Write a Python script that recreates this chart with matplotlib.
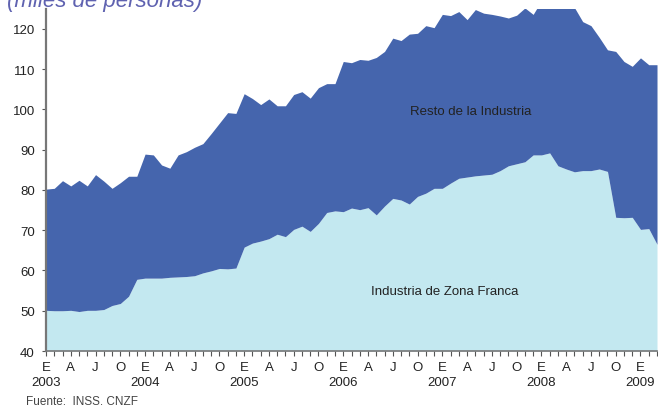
import numpy as np
import matplotlib
matplotlib.use("Agg")
from matplotlib import pyplot as plt

plt.rcParams['font.family'] = ['Liberation Sans', 'DejaVu Sans']

# empleo mensual, enero 2003 - marzo 2009 (miles de personas)
zona_franca = [50.1, 50.0, 50.0, 50.1, 49.8, 50.1, 50.1, 50.3, 51.3, 51.8, 53.6, 57.8,
               58.1, 58.1, 58.1, 58.3, 58.4, 58.5, 58.7, 59.4, 59.9, 60.5, 60.4, 60.6,
               65.8, 66.8, 67.3, 67.9, 69.0, 68.4, 70.2, 71.0, 69.7, 71.7, 74.4, 74.8,
               74.6, 75.5, 75.1, 75.6, 73.8, 76.0, 77.9, 77.5, 76.5, 78.4, 79.2, 80.4,
               80.4, 81.7, 82.9, 83.2, 83.5, 83.7, 83.9, 84.8, 86.0, 86.5, 87.0, 88.7,
               88.7, 89.2, 86.0, 85.2, 84.5, 84.8, 84.8, 85.2, 84.6, 73.2, 73.1, 73.2,
               70.2, 70.4, 66.5]
total_industria = [80.2, 80.4, 82.3, 81.0, 82.4, 81.0, 83.8, 82.2, 80.4, 81.8, 83.4, 83.4,
                   88.9, 88.7, 86.2, 85.4, 88.7, 89.5, 90.6, 91.5, 94.0, 96.6, 99.2, 99.0,
                   103.9, 102.7, 101.2, 102.6, 100.9, 100.9, 103.7, 104.4, 102.8, 105.4, 106.4, 106.4,
                   111.9, 111.6, 112.4, 112.2, 112.9, 114.4, 117.7, 117.1, 118.7, 118.9, 120.8, 120.3,
                   123.6, 123.3, 124.3, 122.3, 124.8, 123.9, 123.6, 123.2, 122.7, 123.4, 125.2, 123.6,
                   127.0, 128.0, 128.0, 127.0, 125.3, 121.8, 120.8, 117.9, 114.8, 114.4, 111.9, 110.7,
                   112.8, 111.1, 111.1]
meses = ["E", "", "", "A", "", "", "J", "", "", "O", "", ""]
anios = ["2003", "2004", "2005", "2006", "2007", "2008", "2009"]

x = np.arange(len(zona_franca))

fig = plt.figure(figsize=(6.58, 4.06), dpi=100)
ax = fig.add_axes([0.0699, 0.133, 0.9286, 0.843])

ax.fill_between(x, 40, zona_franca, color="#C3E8F0", linewidth=0)
ax.fill_between(x, zona_franca, total_industria, color="#4565AD", linewidth=0)

ax.set_xlim(0, len(x) - 1)
ax.set_ylim(40, 125)
ax.set_yticks(range(40, 121, 10))

etiquetas = []
for i in x:
    m = meses[i % 12]
    if i % 12 == 0:
        m = m + "\n" + anios[i // 12]
    etiquetas.append(m)
ax.set_xticks(x)
ax.set_xticklabels(etiquetas, fontsize=9.5, color="#222222", linespacing=1.3)

for s in ["top", "right"]:
    ax.spines[s].set_visible(False)
ax.spines["left"].set_color("#777777")
ax.spines["left"].set_linewidth(1.6)
ax.spines["bottom"].set_color("#777777")
ax.spines["bottom"].set_linewidth(1.2)
ax.tick_params(axis="y", length=3, color="#555555", labelsize=9.5, labelcolor="#222222", pad=5)
ax.tick_params(axis="x", length=3.5, color="#555555", pad=4)

ax.text(51.4, 99.6, "Resto de la Industria", fontsize=9.5, color="#222222",
        ha="center", va="center")
ax.text(48.3, 54.9, "Industria de Zona Franca", fontsize=9.5, color="#222222",
        ha="center", va="center")

fig.text(0.011, 0.983, "(miles de personas)", fontsize=16, style="italic",
         color="#5F62B0", ha="left", va="baseline")
fig.text(0.04, 0.011, "Fuente:  INSS, CNZF", fontsize=8.5, color="#444444",
         ha="left", va="center")

fig.savefig("out.png", dpi=100)
